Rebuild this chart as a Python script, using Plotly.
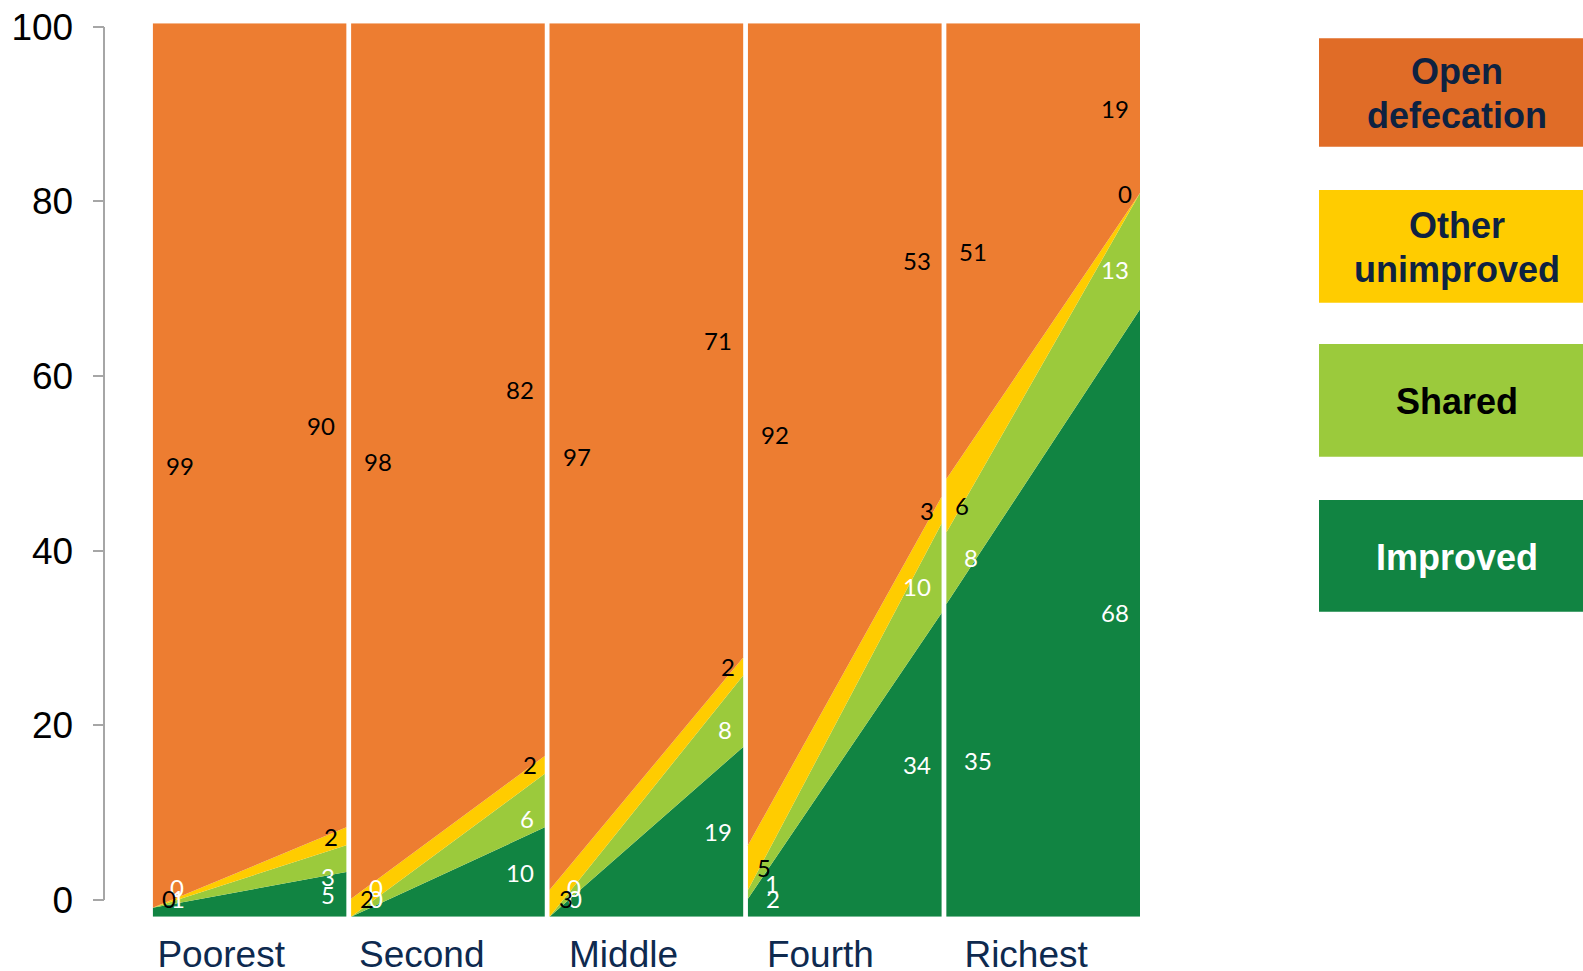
import plotly.graph_objects as go

# Sanitation ladder by wealth quintile, start vs end of period (%)
groups = ["Poorest", "Second", "Middle", "Fourth", "Richest"]

improved_start = [1, 0, 0, 2, 35]
improved_end = [5, 10, 19, 34, 68]
shared_start = [0, 0, 0, 1, 8]
shared_end = [3, 6, 8, 10, 13]
other_start = [0, 2, 3, 5, 6]
other_end = [2, 2, 2, 3, 0]
open_start = [99, 98, 97, 92, 51]
open_end = [90, 82, 71, 53, 19]

y_ticks = [0, 20, 40, 60, 80, 100]

series = [
    ("Improved", improved_start, improved_end, "#118442", "white"),
    ("Shared", shared_start, shared_end, "#9BCA3C", "white"),
    ("Other unimproved", other_start, other_end, "#FFCC00", "black"),
    ("Open defecation", open_start, open_end, "#ED7D31", "black"),
]

W, H = 1583, 971
PANEL_W = 0.976          # width of each quintile panel in x units
PX_PER_X = 198.4         # pixels per x unit
LABEL_FONT = dict(family="Lato, Calibri, sans-serif", size=24)
# horizontal placement of each category name inside its panel (x units)
NAME_POS = [0.345, 0.356, 0.373, 0.365, 0.402]

fig = go.Figure()

# stacked areas, one stack group per quintile panel
for i, g in enumerate(groups):
    for name, s0, s1, color, _ in series:
        fig.add_trace(go.Scatter(
            x=[i, i + PANEL_W], y=[s0[i], s1[i]],
            mode="lines", stackgroup=f"p{i}",
            line=dict(width=0, color=color), fillcolor=color,
            name=name, showlegend=False, hoverinfo="skip",
        ))

# value labels at both ends of every band
left_off = {"Improved": 17, "Shared": 16.5, "Other unimproved": 8, "Open defecation": 12}
right_off = {"Improved": 10, "Shared": 10, "Other unimproved": 7, "Open defecation": 10}
annotations = []
for i, g in enumerate(groups):
    base0 = base1 = 0.0
    for name, s0, s1, color, tcolor in series:
        c0 = max(base0 + s0[i] / 2, 2.0)
        c1 = max(base1 + s1[i] / 2, 2.0)
        ys0 = 11 if name == "Shared" else 0
        ys1 = -18 if name == "Shared" else 0
        annotations.append(dict(
            x=i + left_off[name] / PX_PER_X, y=c0, xref="x", yref="y",
            text=str(s0[i]), showarrow=False, xanchor="left", yanchor="middle",
            yshift=ys0, borderpad=0, font=dict(color=tcolor, **LABEL_FONT)))
        annotations.append(dict(
            x=i + PANEL_W - right_off[name] / PX_PER_X, y=c1, xref="x", yref="y",
            text=str(s1[i]), showarrow=False, xanchor="right", yanchor="middle",
            yshift=ys1, borderpad=0, font=dict(color=tcolor, **LABEL_FONT)))
        base0 += s0[i]
        base1 += s1[i]

# legend boxes on the right (text lines placed individually for tight leading)
legend_items = [
    (["Open", "defecation"], "#E06C27", "#0E2241", 38.3, 146.7),
    (["Other", "unimproved"], "#FFCC00", "#0E2241", 190.0, 302.7),
    (["Shared"], "#9BCA3C", "#000000", 344.0, 456.7),
    (["Improved"], "#118442", "#FFFFFF", 500.0, 611.7),
]
shapes = []
for lines, fill, tcol, top, bot in legend_items:
    shapes.append(dict(type="rect", xref="paper", yref="paper",
                       x0=1319 / W, x1=1.0, y0=1 - bot / H, y1=1 - top / H,
                       fillcolor=fill, line=dict(width=0), layer="below"))
    mid = (top + bot) / 2
    offsets = [-21, 23] if len(lines) == 2 else [1.5]
    for line_text, off in zip(lines, offsets):
        annotations.append(dict(
            x=1457 / W, y=1 - (mid + off) / H, xref="paper", yref="paper",
            text=f"<b>{line_text}</b>", showarrow=False, xanchor="center", yanchor="middle",
            font=dict(family="Liberation Sans, Arial, sans-serif", size=36, color=tcol)))

fig.update_layout(
    width=W, height=H,
    margin=dict(l=0, r=0, t=0, b=0, autoexpand=False),
    paper_bgcolor="white", plot_bgcolor="rgba(0,0,0,0)",
    showlegend=False,
    shapes=shapes,
    annotations=annotations,
    xaxis=dict(
        domain=[152.7 / W, 1140 / W],
        range=[0, 4 + PANEL_W],
        tickvals=[i + p for i, p in enumerate(NAME_POS)],
        ticktext=groups,
        ticks="", showline=False, showgrid=False, zeroline=False,
        tickfont=dict(family="Liberation Sans, Arial, sans-serif", size=37, color="#0E2A4F"),
        ticklabelstandoff=12, automargin=False,
    ),
    yaxis=dict(
        domain=[1 - 916.7 / H, 1 - 23.3 / H],
        range=[0, 100],
        visible=False, automargin=False,
    ),
    yaxis2=dict(
        domain=[1 - 900 / H, 1 - 26.7 / H],
        range=[0, 100],
        anchor="free", position=104.3 / W,
        tickvals=y_ticks,
        ticks="outside", ticklen=11, tickcolor="#A6A6A6", tickwidth=1.5,
        showline=True, linecolor="#A6A6A6", linewidth=1.5,
        showgrid=False, zeroline=False,
        tickfont=dict(family="Liberation Sans, Arial, sans-serif", size=37, color="black"),
        ticklabelstandoff=12, automargin=False,
    ),
)

# invisible trace to draw the left value axis
fig.add_trace(go.Scatter(x=[None], y=[None], yaxis="y2", showlegend=False, hoverinfo="skip"))

fig.write_html("out.html")
